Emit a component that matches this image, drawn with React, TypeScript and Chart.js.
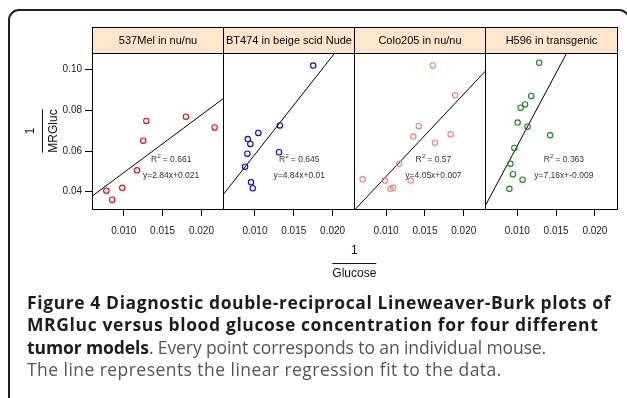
import React, { useEffect, useRef } from "react";
import { Chart, registerables } from "chart.js";

Chart.register(...registerables);

// ---- data ----
const PANEL_TITLES = ["537Mel in nu/nu", "BT474 in beige scid Nude", "Colo205 in nu/nu", "H596 in transgenic"];
const POINT_COLORS = ["#FF0000", "#0000FF", "#FA8072", "#118A11"];

const X_537 = [0.00775, 0.0085, 0.0098, 0.0117, 0.0125, 0.0129, 0.018, 0.0217];
const Y_537 = [0.0405, 0.0361, 0.0419, 0.0505, 0.0651, 0.0748, 0.0769, 0.0716];

const X_BT474 = [0.0175, 0.0132, 0.01043, 0.00907, 0.0094, 0.00902, 0.00872, 0.0131, 0.00949, 0.00971];
const Y_BT474 = [0.102, 0.0726, 0.0689, 0.0659, 0.0635, 0.0587, 0.0523, 0.0594, 0.0446, 0.0417];

const X_COLO = [0.016, 0.0189, 0.0142, 0.0135, 0.0183, 0.0163, 0.01167, 0.00697, 0.00983, 0.01317, 0.01056, 0.0109];
const Y_COLO = [0.1021, 0.0874, 0.0723, 0.0671, 0.0682, 0.0641, 0.0538, 0.0461, 0.0455, 0.0455, 0.0414, 0.0419];

const X_H596 = [0.01282, 0.0118, 0.011, 0.01043, 0.01004, 0.01132, 0.01423, 0.00962, 0.00911, 0.00944, 0.01068, 0.00898];
const Y_H596 = [0.1034, 0.0871, 0.0829, 0.0813, 0.074, 0.072, 0.0677, 0.0615, 0.0537, 0.0486, 0.0459, 0.0414];

const SLOPES = [2.84, 4.84, 4.05, 7.16];
const INTERCEPTS = [0.021, 0.01, 0.007, -0.009];
const R2_LABELS = ["0.661", "0.645", "0.57", "0.363"];
const EQ_LABELS = ["y=2.84x+0.021", "y=4.84x+0.01", "y=4.05x+0.007", "y=7.16x+-0.009"];
const LABEL_X = [0.0161, 0.0157, 0.0161, 0.016];
const LABEL_Y = [0.0558, 0.0478];

const X_TICKS = [0.01, 0.015, 0.02];
const Y_TICKS = [0.04, 0.06, 0.08, 0.1];
const X_MIN = 0.0059;
const X_MAX = 0.0228;
const Y_MIN = 0.0315;
const Y_MAX = 0.1082;

const XS = [X_537, X_BT474, X_COLO, X_H596];
const YS = [Y_537, Y_BT474, Y_COLO, Y_H596];

const FONT = "'Liberation Sans', Arial, Helvetica, sans-serif";
const STRIP_BG = "#FFE5CC";
const STRIP_H = 26;

export default function App() {
  const ref = useRef<HTMLCanvasElement>(null);

  useEffect(() => {
    const canvas = ref.current;
    if (!canvas) return;

    const datasets: any[] = [];
    for (let i = 0; i < 4; i++) {
      const axis = "x" + (i + 1);
      datasets.push({
        type: "scatter",
        data: XS[i].map((x, k) => ({ x, y: YS[i][k] })),
        xAxisID: axis,
        yAxisID: "y",
        pointStyle: "circle",
        pointRadius: 2.7,
        pointBorderWidth: 1.1,
        pointBorderColor: POINT_COLORS[i],
        pointBackgroundColor: "rgba(0,0,0,0)",
        borderColor: POINT_COLORS[i],
        backgroundColor: "rgba(0,0,0,0)",
        showLine: false,
      });
      const m = SLOPES[i];
      const b = INTERCEPTS[i];
      const xa = Math.max(X_MIN, (Y_MIN - b) / m);
      const xb = Math.min(X_MAX, (Y_MAX - b) / m);
      datasets.push({
        type: "scatter",
        data: [
          { x: xa, y: m * xa + b },
          { x: xb, y: m * xb + b },
        ],
        xAxisID: axis,
        yAxisID: "y",
        showLine: true,
        pointRadius: 0,
        borderColor: "#000",
        borderWidth: 1,
        fill: false,
      });
    }

    const scales: any = {
      y: {
        type: "linear",
        position: "left",
        min: Y_MIN,
        max: Y_MAX,
        afterBuildTicks: (s: any) => {
          s.ticks = Y_TICKS.map((v) => ({ value: v }));
        },
        afterFit: (s: any) => {
          s.width = 92;
        },
        ticks: {
          callback: (v: any) => Number(v).toFixed(2),
          font: { family: FONT, size: 10 },
          color: "#222",
          padding: 3,
        },
        grid: { display: true, drawOnChartArea: false, drawTicks: true, tickLength: 7, color: "#000", lineWidth: 1 },
        border: { display: false },
      },
    };
    for (let i = 0; i < 4; i++) {
      scales["x" + (i + 1)] = {
        type: "linear",
        position: "bottom",
        stack: "panels",
        stackWeight: 1,
        min: X_MIN,
        max: X_MAX,
        afterBuildTicks: (s: any) => {
          s.ticks = X_TICKS.map((v) => ({ value: v }));
        },
        afterFit: (s: any) => {
          s.height = 40;
        },
        ticks: {
          callback: (v: any) => Number(v).toFixed(3),
          font: { family: FONT, size: 10 },
          color: "#222",
          padding: 9,
          maxRotation: 0,
          autoSkip: false,
        },
        grid: { display: true, drawOnChartArea: false, drawTicks: true, tickLength: 7, color: "#000", lineWidth: 1 },
        border: { display: false },
      };
    }

    const panelsPlugin = {
      id: "panelsDecor",
      afterDraw(chart: any) {
        const { ctx, chartArea, scales: sc } = chart;
        const top = Math.round(chartArea.top) + 0.5;
        const bottom = Math.round(chartArea.bottom) + 0.5;
        const ys = sc.y;
        ctx.save();
        for (let i = 0; i < 4; i++) {
          const s = sc["x" + (i + 1)];
          const l = Math.round(s.left) + 0.5;
          const r = Math.round(s.right) + 0.5;
          // strip
          ctx.fillStyle = STRIP_BG;
          ctx.fillRect(l, top - STRIP_H, r - l, STRIP_H);
          ctx.strokeStyle = "#000";
          ctx.lineWidth = 1;
          ctx.strokeRect(l, top - STRIP_H, r - l, STRIP_H);
          ctx.fillStyle = "#000";
          ctx.font = `11px ${FONT}`;
          ctx.textAlign = "center";
          ctx.textBaseline = "middle";
          ctx.fillText(PANEL_TITLES[i], (l + r) / 2, top - STRIP_H / 2 + 0.5);
          // panel border
          ctx.strokeRect(l, top, r - l, bottom - top);

          // annotations
          const cx = s.getPixelForValue(LABEL_X[i]);
          const y1 = ys.getPixelForValue(LABEL_Y[0]);
          const y2 = ys.getPixelForValue(LABEL_Y[1]);
          ctx.fillStyle = "#333";
          const mainFont = `8.5px ${FONT}`;
          const supFont = `6px ${FONT}`;
          ctx.font = mainFont;
          const wR = ctx.measureText("R").width;
          const rest = " = " + R2_LABELS[i];
          const wRest = ctx.measureText(rest).width;
          ctx.font = supFont;
          const wSup = ctx.measureText("2").width;
          const total = wR + wSup + wRest;
          const x0 = cx - total / 2;
          ctx.textAlign = "left";
          ctx.textBaseline = "middle";
          ctx.font = mainFont;
          ctx.fillText("R", x0, y1);
          ctx.font = supFont;
          ctx.fillText("2", x0 + wR + 0.3, y1 - 3.5);
          ctx.font = mainFont;
          ctx.fillText(rest, x0 + wR + wSup, y1);
          ctx.textAlign = "center";
          ctx.fillText(EQ_LABELS[i], cx, y2);
        }

        // axis titles
        ctx.fillStyle = "#111";
        ctx.strokeStyle = "#111";
        ctx.font = `12px ${FONT}`;
        ctx.textAlign = "center";
        ctx.textBaseline = "middle";
        const cxAll = (chartArea.left + chartArea.right) / 2;
        const gw = ctx.measureText("Glucose").width;
        ctx.fillText("1", cxAll, chartArea.bottom + 41.5);
        ctx.beginPath();
        ctx.moveTo(cxAll - gw / 2, Math.round(chartArea.bottom + 54) + 0.5);
        ctx.lineTo(cxAll + gw / 2, Math.round(chartArea.bottom + 54) + 0.5);
        ctx.stroke();
        ctx.fillText("Glucose", cxAll, chartArea.bottom + 65);

        const cyAll = (chartArea.top + chartArea.bottom) / 2;
        const mw = ctx.measureText("MRGluc").width;
        ctx.save();
        ctx.translate(chartArea.left, cyAll);
        ctx.rotate(-Math.PI / 2);
        ctx.fillText("1", 0, -61.5);
        ctx.beginPath();
        ctx.moveTo(-mw / 2, -49.5);
        ctx.lineTo(mw / 2, -49.5);
        ctx.stroke();
        ctx.fillText("MRGluc", 0, -38.5);
        ctx.restore();

        ctx.restore();
      },
    };

    const chart = new Chart(canvas, {
      type: "scatter",
      data: { datasets },
      options: {
        responsive: false,
        animation: false,
        events: [],
        layout: { padding: { left: 0, right: 6, top: 53, bottom: 149 } },
        scales,
        plugins: { legend: { display: false }, tooltip: { enabled: false } },
      },
      plugins: [panelsPlugin],
    } as any);

    return () => chart.destroy();
  }, []);

  const bold: React.CSSProperties = { fontWeight: 700, color: "#1d1d1b" };
  const reg: React.CSSProperties = { fontWeight: 400, color: "#555" };

  return (
    <div
      style={{
        position: "absolute",
        left: 0,
        top: 0,
        width: 627,
        height: 398,
        overflow: "hidden",
        background: "#fff",
      }}
    >
      <div
        style={{
          position: "absolute",
          left: 8,
          top: 9,
          width: 622,
          height: 440,
          boxSizing: "border-box",
          border: "2px solid #222",
          borderRadius: 11,
        }}
      />
      <canvas ref={ref} width={627} height={398} style={{ position: "absolute", left: 0, top: 0, width: 627, height: 398 }} />
      <div
        style={{
          position: "absolute",
          left: 27,
          top: 291,
          fontFamily: "'Open Sans', 'Noto Sans', sans-serif",
          fontSize: 17.5,
          lineHeight: "22.4px",
          whiteSpace: "nowrap",
        }}
      >
        <div style={{ letterSpacing: 0.6 }}>
          <span style={bold}>Figure 4 Diagnostic double-reciprocal Lineweaver-Burk plots of</span>
        </div>
        <div style={{ letterSpacing: 0.62 }}>
          <span style={bold}>MRGluc versus blood glucose concentration for four different</span>
        </div>
        <div style={{ letterSpacing: -0.1 }}>
          <span style={bold}>tumor models</span>
          <span style={reg}>. Every point corresponds to an individual mouse.</span>
        </div>
        <div style={{ letterSpacing: 0.45 }}>
          <span style={reg}>The line represents the linear regression fit to the data.</span>
        </div>
      </div>
    </div>
  );
}
